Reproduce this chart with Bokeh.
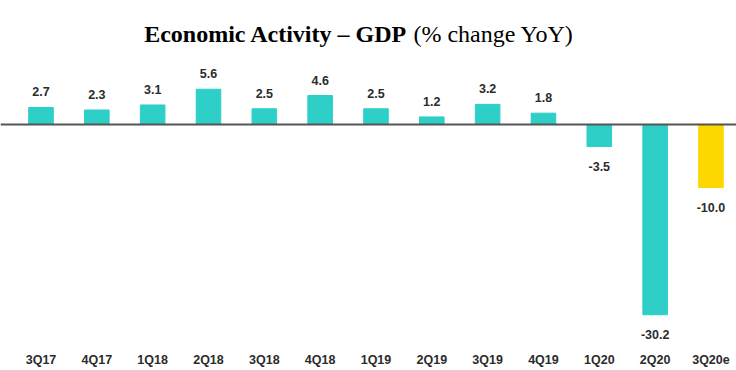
from bokeh.plotting import figure
from bokeh.models import ColumnDataSource, Range1d, FixedTicker, Span, LabelSet, Label
from bokeh.core.properties import value
from bokeh.embed import file_html
from bokeh.resources import INLINE

# ---- data ----
quarters = ["3Q17", "4Q17", "1Q18", "2Q18", "3Q18", "4Q18", "1Q19",
            "2Q19", "3Q19", "4Q19", "1Q20", "2Q20", "3Q20e"]
gdp_yoy = [2.7, 2.3, 3.1, 5.6, 2.5, 4.6, 2.5, 1.2, 3.2, 1.8, -3.5, -30.2, -10.0]
title_bold = "Economic Activity – GDP"
title_normal = "(% change YoY)"

# ---- styling ----
ACTUAL = "#2DCFC7"
ESTIMATE = "#FDD700"
TXT = "#2b2b2b"

W, H = 736, 370
BOTTOM = 26
FRAME_H = H - BOTTOM
BASE_Y = 124           # px from frame top to zero line
PPU = 6.3              # px per unit
y_top = BASE_Y / PPU
y_bot = -(FRAME_H - BASE_Y) / PPU
step = 55.83
first = 40.5
x0 = -first / step
x1 = (W - first) / step

xs = list(range(len(quarters)))
colors = [ESTIMATE if q.endswith("e") else ACTUAL for q in quarters]
texts = [f"{v:.1f}" for v in gdp_yoy]
pos = [v >= 0 for v in gdp_yoy]

src = ColumnDataSource(dict(x=xs, top=gdp_yoy, color=colors))
src_pos = ColumnDataSource(dict(x=[x for x, p_ in zip(xs, pos) if p_],
                                y=[v for v, p_ in zip(gdp_yoy, pos) if p_],
                                text=[t for t, p_ in zip(texts, pos) if p_]))
src_neg = ColumnDataSource(dict(x=[x for x, p_ in zip(xs, pos) if not p_],
                                y=[v for v, p_ in zip(gdp_yoy, pos) if not p_],
                                text=[t for t, p_ in zip(texts, pos) if not p_]))

p = figure(width=W, height=H, output_backend="svg", toolbar_location=None,
           x_range=Range1d(x0, x1), y_range=Range1d(y_bot, y_top),
           min_border_left=0, min_border_right=0, min_border_top=0,
           min_border_bottom=BOTTOM)
p.outline_line_color = None
p.xgrid.visible = False
p.ygrid.visible = False
p.yaxis.visible = False
p.background_fill_color = "white"
p.border_fill_color = "white"

p.vbar(x="x", top="top", bottom=0, width=0.44, color="color", source=src)

p.add_layout(Span(location=0, dimension="width", line_color="#555555", line_width=2))

xa = p.xaxis[0]
xa.ticker = FixedTicker(ticks=xs)
xa.major_label_overrides = {i: q for i, q in zip(xs, quarters)}
xa.axis_line_color = None
xa.major_tick_line_color = None
xa.minor_tick_line_color = None
xa.major_tick_out = 0
xa.major_tick_in = 0
xa.major_label_standoff = 8
xa.major_label_text_font = "Liberation Sans"
xa.major_label_text_font_style = "bold"
xa.major_label_text_font_size = "12.5px"
xa.major_label_text_color = TXT

common = dict(text="text", text_font=value("Liberation Sans"), text_font_style="bold",
              text_font_size="12.5px", text_color=TXT, text_align="center",
              text_baseline="alphabetic")
p.add_layout(LabelSet(x="x", y="y", source=src_pos, y_offset=11, **common))
p.add_layout(LabelSet(x="x", y="y", source=src_neg, y_offset=-24, **common))

title_y = y_top - 33 / PPU
p.add_layout(Label(x=6, y=title_y, x_offset=31.5, text=title_bold,
                   text_font="Liberation Serif", text_font_style="bold",
                   text_font_size="24px", text_color="black",
                   text_align="right", text_baseline="alphabetic"))
p.add_layout(Label(x=6, y=title_y, x_offset=37.5, text=title_normal,
                   text_font="Liberation Serif", text_font_style="normal",
                   text_font_size="24px", text_color="black",
                   text_align="left", text_baseline="alphabetic"))

open("out.html", "w").write(file_html(p, INLINE))
